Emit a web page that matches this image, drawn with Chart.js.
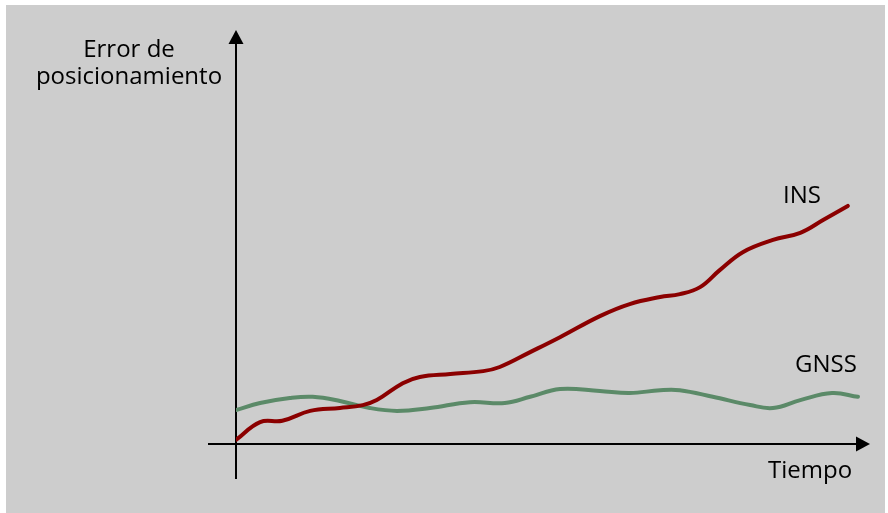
<!DOCTYPE html>
<html>
<head>
<meta charset="utf-8">
<script src="https://cdn.jsdelivr.net/npm/chart.js@4"></script>
<style>
  html, body { margin: 0; padding: 0; background: #ffffff; }
  #wrap { width: 888px; height: 513px; position: relative; }
</style>
</head>
<body>
<div id="wrap"><canvas id="chart" width="888" height="513"></canvas></div>
<script>
// Time axis (0..100, arbitrary units) and error values (0..100)
const insTime = [0, 3.8, 7.3, 11.7, 16.4, 20.0, 22.2, 26.3, 29.0, 33.8, 39.0, 41.6, 46.4, 51.1, 57.4, 62.1, 66.9, 70.0, 73.2, 76.3, 80.0, 84.7, 89.0, 92.6, 96.5];
const insError = [1.0, 5.3, 5.6, 8.0, 8.7, 9.4, 10.6, 14.7, 16.2, 16.9, 17.6, 18.6, 22.2, 25.8, 30.9, 33.8, 35.5, 36.2, 37.9, 42.0, 46.4, 49.3, 51.0, 54.1, 57.5];

const gnssTime = [0, 3.8, 8.5, 12.1, 16.4, 21.1, 25.4, 30.6, 36.9, 42.4, 46.4, 51.1, 57.4, 62.1, 66.9, 70.0, 75.2, 81.1, 84.7, 89.0, 94.0, 98.1];
const gnssError = [8.2, 9.9, 11.1, 11.4, 10.4, 8.7, 8.0, 8.7, 10.1, 9.9, 11.4, 13.3, 12.8, 12.3, 13.0, 13.0, 11.4, 9.4, 8.7, 10.6, 12.3, 11.4];

const seriesLabels = ["INS", "GNSS"];
const yTitle = ["Error de", "posicionamiento"];
const xTitle = "Tiempo";

const FONT = '24px "Open Sans", sans-serif';

function toPoints(xs, ys) {
  return xs.map((x, i) => ({ x: x, y: ys[i] }));
}

// Gray panel behind everything
const panelPlugin = {
  id: "panel",
  beforeDraw(chart) {
    const ctx = chart.ctx;
    ctx.save();
    ctx.fillStyle = "#cdcdcd";
    ctx.fillRect(6, 5, 879, 508);
    ctx.restore();
  },
};

// Axes with arrow heads, drawn from the scales
const axesPlugin = {
  id: "arrowAxes",
  beforeDatasetsDraw(chart) {
    const { ctx, scales } = chart;
    const x0 = scales.x.getPixelForValue(0);
    const y0 = scales.y.getPixelForValue(0);
    const xEnd = scales.x.getPixelForValue(100);
    const yEnd = scales.y.getPixelForValue(100);
    ctx.save();
    ctx.strokeStyle = "#000";
    ctx.fillStyle = "#000";
    ctx.lineWidth = 2;
    // y axis
    ctx.beginPath();
    ctx.moveTo(x0, y0 + 35);
    ctx.lineTo(x0, yEnd + 10);
    ctx.stroke();
    ctx.beginPath();
    ctx.moveTo(x0, yEnd);
    ctx.lineTo(x0 - 7.5, yEnd + 14);
    ctx.lineTo(x0 + 7.5, yEnd + 14);
    ctx.closePath();
    ctx.fill();
    // x axis
    ctx.beginPath();
    ctx.moveTo(x0 - 28, y0);
    ctx.lineTo(xEnd - 10, y0);
    ctx.stroke();
    ctx.beginPath();
    ctx.moveTo(xEnd, y0);
    ctx.lineTo(xEnd - 14, y0 - 7.5);
    ctx.lineTo(xEnd - 14, y0 + 7.5);
    ctx.closePath();
    ctx.fill();
    ctx.restore();
  },
  afterDraw(chart) {
    const ctx = chart.ctx;
    ctx.save();
    ctx.fillStyle = "#000";
    ctx.font = FONT;
    ctx.textBaseline = "alphabetic";
    ctx.textAlign = "center";
    ctx.fillText(yTitle[0], 129, 57);
    ctx.fillText(yTitle[1], 129, 84);
    ctx.textAlign = "left";
    ctx.fillText(seriesLabels[0], 783, 203);
    ctx.fillText(seriesLabels[1], 795, 372);
    ctx.fillText(xTitle, 768, 478);
    ctx.restore();
  },
};

new Chart(document.getElementById("chart"), {
  type: "line",
  data: {
    datasets: [
      {
        label: seriesLabels[0],
        data: toPoints(insTime, insError),
        borderColor: "#8b0000",
        borderWidth: 4,
        pointRadius: 0,
        tension: 0.4,
        borderCapStyle: "round",
        fill: false,
      },
      {
        label: seriesLabels[1],
        data: toPoints(gnssTime, gnssError),
        borderColor: "#5b8a68",
        borderWidth: 4,
        pointRadius: 0,
        tension: 0.4,
        borderCapStyle: "round",
        fill: false,
      },
    ],
  },
  options: {
    responsive: false,
    animation: false,
    layout: { padding: { left: 236, right: 18, top: 30, bottom: 69 } },
    plugins: { legend: { display: false }, tooltip: { enabled: false } },
    scales: {
      x: { type: "linear", min: 0, max: 100, display: false },
      y: { type: "linear", min: 0, max: 100, display: false },
    },
  },
  plugins: [panelPlugin, axesPlugin],
});
</script>
</body>
</html>
